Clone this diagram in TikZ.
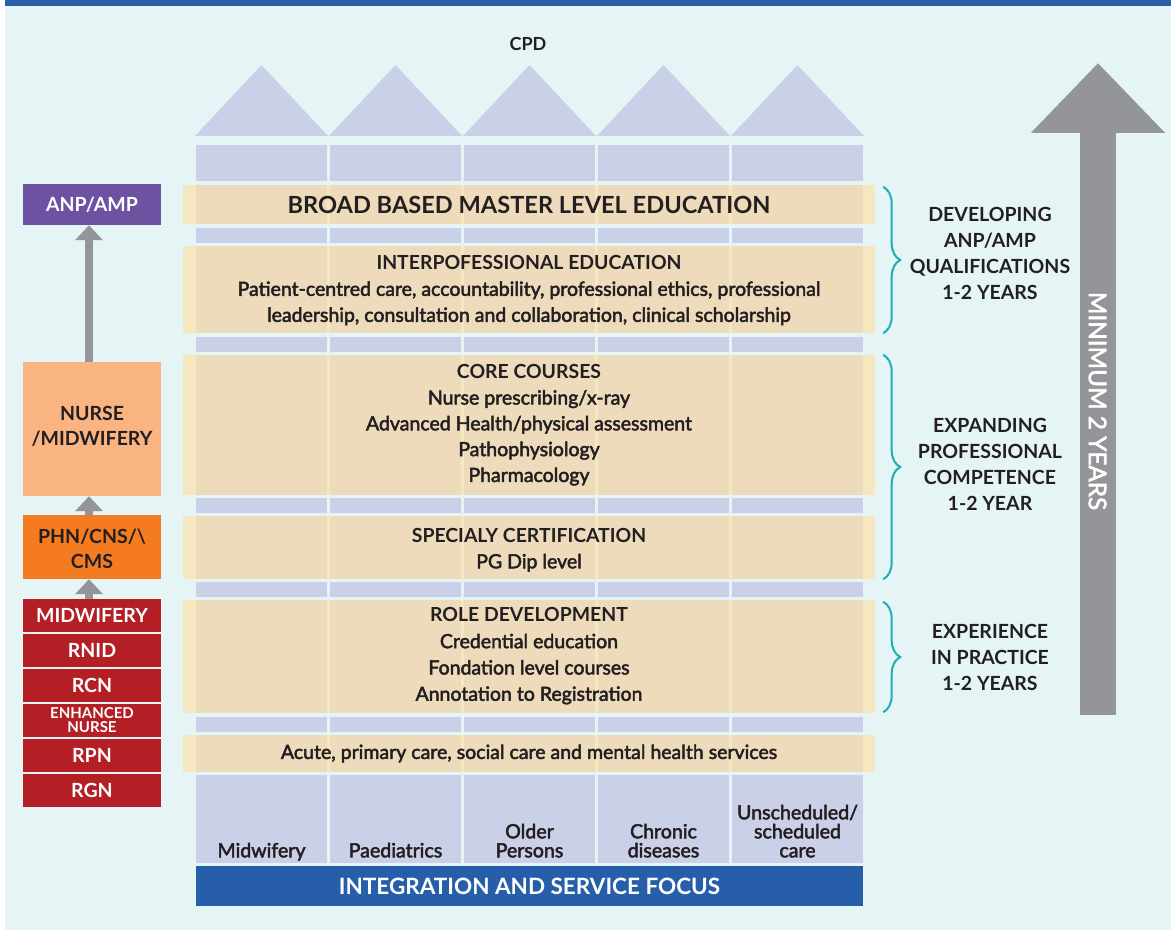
\documentclass[tikz,border=0pt]{standalone}
\usepackage{fontspec}
\setmainfont{Lato}
\newfontfamily\semifont{Lato}[FakeBold=2.5]
\usetikzlibrary{arrows.meta,decorations.pathreplacing}

\definecolor{pagebg}{HTML}{E5F4F5}
\definecolor{topbar}{HTML}{2A5FAA}
\definecolor{lav}{HTML}{CBD0E9}
\definecolor{sand}{HTML}{FEE1A7}
\definecolor{ink}{HTML}{231F20}
\definecolor{anpcol}{HTML}{6C52A1}
\definecolor{peach}{HTML}{F9B482}
\definecolor{orng}{HTML}{F47B20}
\definecolor{regred}{HTML}{B31F24}
\definecolor{arrowgray}{HTML}{939598}
\definecolor{teal}{HTML}{1BB0B6}
\definecolor{focusblue}{HTML}{265EAA}

% bold heading line inside a band
\newcommand\bandhead[1]{{\rmfamily\bfseries\fontsize{19.4}{26}\selectfont #1}}

\begin{document}
\begin{tikzpicture}[x=1pt,y=-1pt,
  lbox/.style={minimum width=138pt, inner sep=0pt, align=center,
    text height=14pt, text depth=0pt,
    font=\bfseries\fontsize{19.5}{25}\selectfont},
  redbox/.style={lbox, fill=regred, text=white, minimum height=33pt},
  band/.style={fill=sand, fill opacity=0.67, text opacity=1, text=ink,
    minimum width=692pt, inner sep=0pt, align=center,
    font=\semifont\fontsize{19.5}{26}\selectfont},
  garrow/.style={draw=arrowgray, line width=8pt,
    -{Triangle[width=27pt,length=15pt]}},
  bracket/.style={draw=teal, line width=2pt, decorate,
    decoration={brace, amplitude=17pt}},
  sidelabel/.style={text=ink, align=center,
    font=\bfseries\fontsize{19.5}{26}\selectfont},
  collabel/.style={text=ink, align=center, anchor=south, inner sep=0pt,
    text depth=4.5pt, font=\semifont\fontsize{19.6}{19}\selectfont}
]
\useasboundingbox (0,0) rectangle (1171,931);

% page background and top rule
\fill[white] (0,0) rectangle (1171,931);
\fill[pagebg] (5,6) rectangle (1171,930);
\fill[topbar] (5,0) rectangle (1171,6);

% CPD roofs
\node[text=ink, font=\bfseries\fontsize{18}{18}\selectfont] (cpd) at (528,44) {CPD};
\foreach \x in {196,330,464,598,732}
  \fill[lav] (\x-1,136) -- (\x+65.5,65) -- (\x+132,136) -- cycle;

% column segments
\foreach \x in {196,330,464,598,732}
  \foreach \t/\b in {145/181,185/224,228/243,246/333,337/352,355/495,
                     498/513,516/579,582/597,600/713,717/732,735/772,775/863}
    \fill[lav] (\x,\t) rectangle (\x+131,\b);

% education bands (text box height/depth set so the cap lines sit centred)
\node[band, minimum height=39pt, text height=17.5pt, text depth=0pt] (b1) at (529,204.5)
  {{\rmfamily\bfseries\fontsize{23.6}{28}\selectfont BROAD BASED MASTER LEVEL EDUCATION}};
\node[band, minimum height=87pt, text height=65.6pt, text depth=1pt] (b2) at (529,289.5)
  {\bandhead{INTERPOFESSIONAL EDUCATION}\\
   Patient-centred care, accountability, professional ethics, professional\\
   leadership, consultation and collaboration, clinical scholarship};
\node[band, minimum height=140pt, text height=116.8pt, text depth=3pt,
  font=\semifont\fontsize{19.5}{25.8}\selectfont] (b3) at (529,425)
  {\bandhead{CORE COURSES}\\ Nurse prescribing/x-ray\\
   Advanced Health/physical assessment\\ Pathophysiology\\ Pharmacology};
\node[band, minimum height=63pt, text height=41.6pt, text depth=0pt] (b4) at (529,547.5)
  {\bandhead{SPECIALY CERTIFICATION}\\ PG Dip level};
\node[band, minimum height=113pt, text height=92.5pt, text depth=4pt,
  font=\semifont\fontsize{19.5}{26.3}\selectfont] (b5) at (529,656.5)
  {\bandhead{ROLE DEVELOPMENT}\\ Credential education\\
   Fondation level courses\\ Annotation to Registration};
\node[band, minimum height=37pt, text height=13.8pt, text depth=3pt] (b6) at (529,753.5)
  {Acute, primary care, social care and mental health services};

% service columns
\node[collabel] (c1) at (261.5,862) {Midwifery};
\node[collabel] (c2) at (395.5,862) {Paediatrics};
\node[collabel] (c3) at (529.5,862) {Older\\Persons};
\node[collabel] (c4) at (663.5,862) {Chronic\\diseases};
\node[collabel] (c5) at (797.5,862) {Unscheduled/\\scheduled\\care};
\node[fill=focusblue, text=white, minimum width=667pt, minimum height=40pt,
  inner sep=0pt, font=\bfseries\fontsize{22.5}{22.5}\selectfont] (focus)
  at (529.5,886) {INTEGRATION AND SERVICE FOCUS};

% career ladder
\node[lbox, fill=anpcol, text=white, minimum height=41pt] (anp) at (92,204.5) {ANP/AMP};
\node[lbox, fill=peach, text=ink, minimum height=134pt, text height=39pt, text depth=7pt] (nurse) at (92,429) {NURSE\\/MIDWIFERY};
\node[lbox, fill=orng, text=ink, minimum height=64pt, text height=42pt] (phn) at (92,547) {PHN/CNS/\textbackslash\\CMS};
\node[redbox] (mid) at (92,615.5) {MIDWIFERY};
\node[redbox] (rnid) at (92,650.5) {RNID};
\node[redbox] (rcn) at (92,685.5) {RCN};
\node[redbox, font=\bfseries\fontsize{15}{14}\selectfont, text height=24.7pt] (enh) at (92,720.5) {ENHANCED\\NURSE};
\node[redbox] (rpn) at (92,755.5) {RPN};
\node[redbox] (rgn) at (92,790.5) {RGN};

\draw[garrow] ([xshift=-3pt]nurse.north) -- ([xshift=-3pt]anp.south);
\draw[garrow] ([xshift=-3pt]phn.north) -- ([xshift=-3pt]nurse.south);
\draw[garrow] ([xshift=-3pt]mid.north) -- ([xshift=-3pt]phn.south);

% stage brackets
\draw[bracket] ([xshift=8pt,yshift=-2pt]b1.north east) -- ([xshift=8pt]b2.south east);
\draw[bracket] ([xshift=8pt]b3.north east) -- ([xshift=8pt]b4.south east);
\draw[bracket] ([xshift=8pt,yshift=-2pt]b5.north east) -- ([xshift=8pt,yshift=1pt]b5.south east);

\node[sidelabel] (stage1) at (990,253) {DEVELOPING\\ANP/AMP\\QUALIFICATIONS\\1-2 YEARS};
\node[sidelabel] (stage2) at (990,464) {EXPANDING\\PROFESSIONAL\\COMPETENCE\\1-2 YEAR};
\node[sidelabel] (stage3) at (990,657) {EXPERIENCE\\IN PRACTICE\\1-2 YEARS};

% overall duration arrow
\coordinate (mintail) at (1098,715);
\coordinate (mintip) at (1098,63);
\draw[draw=arrowgray, line width=36pt, -{Triangle[width=130pt,length=70pt]}] (mintail) -- (mintip);
\node[rotate=-90, text=white, font=\semifont\fontsize{24.3}{24.3}\selectfont] (minlabel) at (1097.5,401) {MINIMUM 2 YEARS};

\end{tikzpicture}
\end{document}
